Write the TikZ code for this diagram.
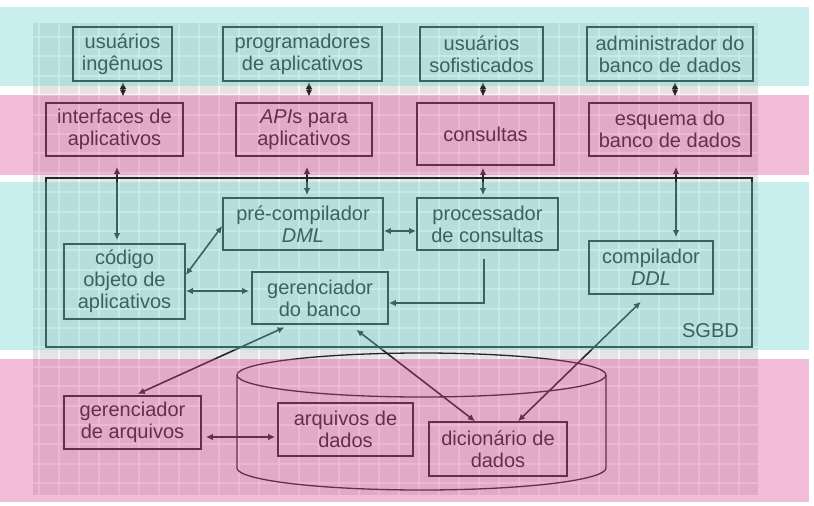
\documentclass[tikz,border=0pt]{standalone}
\usepackage{fontspec}
\setmainfont{Liberation Sans}
\usetikzlibrary{arrows.meta}
\definecolor{ink}{RGB}{38,38,38}
\definecolor{gridcell}{RGB}{228,228,228}
\definecolor{cyanband}{RGB}{98,212,206}
\definecolor{pinkband}{RGB}{215,66,144}
\begin{document}
\begin{tikzpicture}[x=1pt,y=-1pt,
  box/.style={draw=ink, line width=1.6pt, text=ink, inner sep=0pt, align=center,
    font=\fontsize{20}{22}\selectfont},
  lbl/.style={text=ink, inner sep=0pt, font=\fontsize{20}{22}\selectfont},
  conn/.style={draw=ink, line width=1.6pt, {Latex[length=7pt,width=6.5pt]}-{Latex[length=7pt,width=6.5pt]}},
  conn1/.style={draw=ink, line width=1.6pt, -{Latex[length=7pt,width=6.5pt]}}]
\useasboundingbox (0,0) rectangle (814,506);
\fill[white] (0,0) rectangle (814,506);
% grid texture
\fill[gridcell] (33,23) rectangle (758,495);
\foreach \gx in {39,59,...,759} \draw[white, line width=2pt, opacity=0.7] (\gx,23) -- (\gx,495);
\foreach \gy in {37,56.4,...,495} \draw[white, line width=2pt, opacity=0.7] (33,\gy) -- (758,\gy);
% row 1
\node[box, minimum width=99pt, minimum height=54pt] (u1) at (122.5,54) {usuários\\ingênuos};
\node[box, minimum width=159pt, minimum height=54pt] (u2) at (302.5,54) {programadores\\de aplicativos};
\node[box, minimum width=123pt, minimum height=54pt] (u3) at (481.5,54) {usuários\\sofisticados};
\node[box, minimum width=166pt, minimum height=54pt] (u4) at (670,54) {administrador do\\banco de dados};
% row 2
\node[box, minimum width=137pt, minimum height=53pt] (i1) at (114.5,129.5) {interfaces de\\aplicativos};
\node[box, minimum width=136pt, minimum height=53pt] (i2) at (304,129.5) {\textit{API}s para\\aplicativos};
\node[box, minimum width=137pt, minimum height=62pt] (i3) at (485.5,134) {consultas};
\node[box, minimum width=162pt, minimum height=53pt] (i4) at (670,129.5) {esquema do\\banco de dados};
% SGBD
\node[draw=ink, line width=1.6pt, inner sep=0pt, minimum width=706pt, minimum height=169pt] (sgbd) at (399,262.5) {};
\node[lbl, anchor=east] (sgbdlbl) at (739,331) {SGBD};
\node[box, minimum width=160pt, minimum height=52pt] (pre) at (303,224) {pré-compilador\\\textit{DML}};
\node[box, minimum width=141pt, minimum height=52pt] (proc) at (487.5,224) {processador\\de consultas};
\node[box, minimum width=124pt, minimum height=53pt] (ddl) at (651,267.5) {compilador\\\textit{DDL}};
\node[box, minimum width=121pt, minimum height=75pt] (cod) at (124.5,281.5) {código\\objeto de\\aplicativos};
\node[box, minimum width=136pt, minimum height=52pt] (ger) at (320,298) {gerenciador\\do banco};
% storage
\draw[ink, line width=1.3pt] (421.5,375) ellipse[x radius=184.5, y radius=22];
\draw[ink, line width=1.3pt] (237,375) -- (237,468) arc[start angle=180, end angle=0, x radius=184.5, y radius=22] -- (606,375);
\node[box, minimum width=137pt, minimum height=53pt] (ga) at (132.5,422.5) {gerenciador\\de arquivos};
\node[box, minimum width=135pt, minimum height=53pt] (ad) at (345.5,429.5) {arquivos de\\dados};
\node[box, minimum width=138pt, minimum height=54pt] (dd) at (498,449) {dicionário de\\dados};
% connectors row1-row2
\draw[conn, shorten >=5.5pt] ([xshift=0.5pt]u1.south) -- ([xshift=0.5pt]u1.south |- i1.north);
\draw[conn, shorten >=5.5pt] ([xshift=6.5pt]u2.south) -- ([xshift=6.5pt]u2.south |- i2.north);
\draw[conn, shorten >=5.5pt] ([xshift=1.5pt]u3.south) -- ([xshift=1.5pt]u3.south |- i3.north);
\draw[conn, shorten >=5.5pt] ([xshift=5pt]u4.south) -- ([xshift=5pt]u4.south |- i4.north);
% row2 - SGBD
\draw[conn, shorten <=10pt, shorten >=3pt] ([xshift=2.5pt]i1.south) -- ([xshift=2.5pt]i1.south |- cod.north);
\draw[conn, shorten <=10pt, shorten >=2pt] ([xshift=3pt]i2.south) -- ([xshift=3pt]i2.south |- pre.north);
\draw[conn, shorten <=2pt, shorten >=2pt] ([xshift=-2.5pt]i3.south) -- ([xshift=-2.5pt]i3.south |- proc.north);
\draw[conn, shorten <=10pt, shorten >=3pt] ([xshift=6pt]i4.south) -- ([xshift=6pt]i4.south |- ddl.north);
% inside SGBD
\draw[conn] ([yshift=6.5pt]cod.east) -- ([yshift=-2pt]pre.west);
\draw[conn, shorten >=2pt] ([yshift=-9.5pt]cod.east) -- ([yshift=-9.5pt]cod.east -| ger.west);
\draw[conn] ([yshift=-7pt]pre.east) -- ([yshift=-7pt]pre.east -| proc.west);
\draw[conn1, shorten <=8pt] ([xshift=-3.5pt]proc.south) |- ([yshift=-5pt]ger.east);
% to storage
\draw[conn, shorten <=6pt, shorten >=3pt] ([xshift=-30pt]ger.south) -- ([xshift=2.5pt]ga.north);
\draw[conn, shorten <=8pt] ([xshift=30pt]ger.south) -- ([xshift=-23pt]dd.north);
\draw[conn, shorten <=10pt] ([xshift=-3pt]ddl.south) -- ([xshift=20pt]dd.north);
\draw[conn, shorten <=4pt, shorten >=2pt] ([yshift=-14.5pt]ga.east) -- ([yshift=-14.5pt]ga.east -| ad.west);
% colour bands overlay
\fill[cyanband, opacity=0.35] (0,7) rectangle (809,86);
\fill[pinkband, opacity=0.35] (0,95) rectangle (809,175);
\fill[cyanband, opacity=0.35] (0,182) rectangle (809,350);
\fill[pinkband, opacity=0.35] (0,359) rectangle (809,502);
\end{tikzpicture}
\end{document}
